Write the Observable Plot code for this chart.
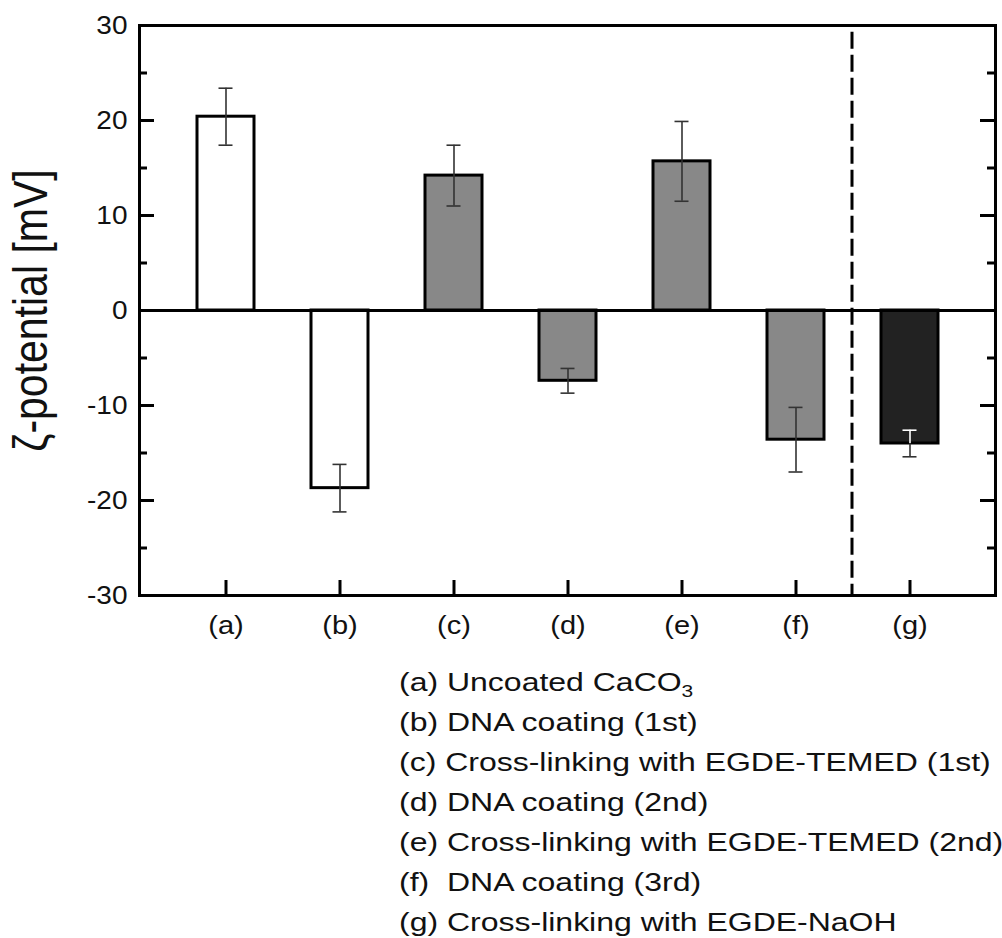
<!DOCTYPE html>
<html>
<head>
<meta charset="utf-8">
<script src="https://cdn.jsdelivr.net/npm/d3@7"></script>
<script src="https://cdn.jsdelivr.net/npm/@observablehq/plot@0.6"></script>
<style>
  body { margin: 0; background: #fff; font-family: "Liberation Sans", Arial, sans-serif; }
  #chart { position: absolute; left: 0; top: 0; }
  #legend { position: absolute; left: 399px; top: 662px; font-size: 26px; line-height: 40px; color: #111; white-space: pre; transform: scaleX(1.23); transform-origin: 0 0; }
  #legend sub { font-size: 17px; vertical-align: -6px; line-height: 0; }
</style>
</head>
<body>
<div id="chart"></div>
<div id="legend"></div>
<script>
const categories = ["(a)", "(b)", "(c)", "(d)", "(e)", "(f)", "(g)"];
const zeta = [20.4, -18.7, 14.2, -7.4, 15.7, -13.6, -14.0];
const errors = [3.0, 2.5, 3.2, 1.3, 4.2, 3.4, 1.4];
const fills = ["#ffffff", "#ffffff", "#888888", "#888888", "#888888", "#888888", "#222222"];
const yTicks = [-30, -20, -10, 0, 10, 20, 30];
const yMinorTicks = [-25, -15, -5, 5, 15, 25];
const dividerBefore = ["(g)"];
const yLabel = "ζ-potential [mV]";
const legendLines = [
  "(a) Uncoated CaCO<sub>3</sub>",
  "(b) DNA coating (1st)",
  "(c) Cross-linking with EGDE-TEMED (1st)",
  "(d) DNA coating (2nd)",
  "(e) Cross-linking with EGDE-TEMED (2nd)",
  "(f)  DNA coating (3rd)",
  "(g) Cross-linking with EGDE-NaOH"
];

const DARK = "#222222";
const data = categories.map((c, i) => ({cat: c, v: zeta[i], e: errors[i], fill: fills[i]}));
// error bar split: inner part (inside the bar) and outer part (beyond the bar end)
const errInner = data.map(d => ({cat: d.cat, y1: d.v, y2: d.v - Math.sign(d.v) * d.e, color: d.fill === DARK ? "#ffffff" : "#333333"}));
const errOuter = data.map(d => ({cat: d.cat, y1: d.v, y2: d.v + Math.sign(d.v) * d.e}));
const capsIn = data.map(d => ({cat: d.cat, y: d.v - Math.sign(d.v) * d.e, color: d.fill === DARK ? "#ffffff" : "#333333"}));
const capsOut = data.map(d => ({cat: d.cat, y: d.v + Math.sign(d.v) * d.e}));

const W = 1002, H = 655;
const mL = 139, mR = 7, mT = 25, mB = H - 595;
const innerW = W - mL - mR, innerH = H - mT - mB;

const plot = Plot.plot({
  width: W,
  height: H,
  marginLeft: mL,
  marginRight: mR,
  marginTop: mT,
  marginBottom: mB,
  style: {fontFamily: '"Liberation Sans", Arial, sans-serif', color: "#111", background: "#fff"},
  x: {domain: categories, padding: 0.5, label: null},
  y: {domain: [-30, 30], label: null},
  marks: [
    Plot.barY(data, {x: "cat", y: "v", fill: "fill", stroke: "#000", strokeWidth: 3}),
    Plot.ruleX(errOuter, {x: "cat", y1: "y1", y2: "y2", stroke: "#333", strokeWidth: 1.6}),
    Plot.ruleX(errInner, {x: "cat", y1: "y1", y2: "y2", stroke: "color", strokeWidth: 1.6}),
    Plot.tickY(capsIn, {x: "cat", y: "y", stroke: "color", strokeWidth: 1.6, insetLeft: 21.5, insetRight: 21.5}),
    Plot.tickY(capsOut, {x: "cat", y: "y", stroke: "#333", strokeWidth: 1.6, insetLeft: 21.5, insetRight: 21.5}),
    Plot.ruleY([0], {stroke: "#000", strokeWidth: 3}),
    Plot.ruleX(dividerBefore, {x: d => d, dx: -58, y1: 29.3, y2: -30, stroke: "#000", strokeWidth: 3, strokeDasharray: "17,6"}),
    // left inward ticks
    Plot.tickY(yTicks, {y: d => d, stroke: "#000", strokeWidth: 3, insetRight: innerW - 15}),
    Plot.tickY(yMinorTicks, {y: d => d, stroke: "#000", strokeWidth: 3, insetRight: innerW - 8}),
    // right inward ticks
    Plot.tickY(yTicks, {y: d => d, stroke: "#000", strokeWidth: 3, insetLeft: innerW - 15}),
    Plot.tickY(yMinorTicks, {y: d => d, stroke: "#000", strokeWidth: 3, insetLeft: innerW - 8}),
    // bottom inward ticks
    Plot.tickX(categories, {x: d => d, stroke: "#000", strokeWidth: 3, insetTop: innerH - 15}),
    Plot.frame({stroke: "#000", strokeWidth: 3}),
    Plot.axisY(yTicks, {tickSize: 0, tickPadding: 12, fontSize: 25, label: null, tickFormat: d => String(d)}),
    Plot.axisX({tickSize: 0, tickPadding: 21, fontSize: 25, label: null}),
    Plot.text([yLabel], {frameAnchor: "left", textAnchor: "middle", dx: -108, rotate: -90, fontSize: 41, fill: "#111"})
  ]
});

// the reference's lettering is horizontally stretched; mimic it
function stretch(sel, sx, sy) {
  sel.each(function() {
    const t = this.getAttribute("transform") || "";
    this.setAttribute("transform", t + ` scale(${sx},${sy})`);
  });
}
const svg = d3.select(plot);
stretch(svg.selectAll("g[aria-label='y-axis tick label'] text"), 1.12, 1);
stretch(svg.selectAll("g[aria-label='x-axis tick label'] text"), 1.16, 1);
stretch(svg.selectAll("text").filter(function() { return this.textContent === yLabel; }), 1, 1.17);

document.getElementById("chart").appendChild(plot);
document.getElementById("legend").innerHTML = legendLines.join("\n");
</script>
</body>
</html>
